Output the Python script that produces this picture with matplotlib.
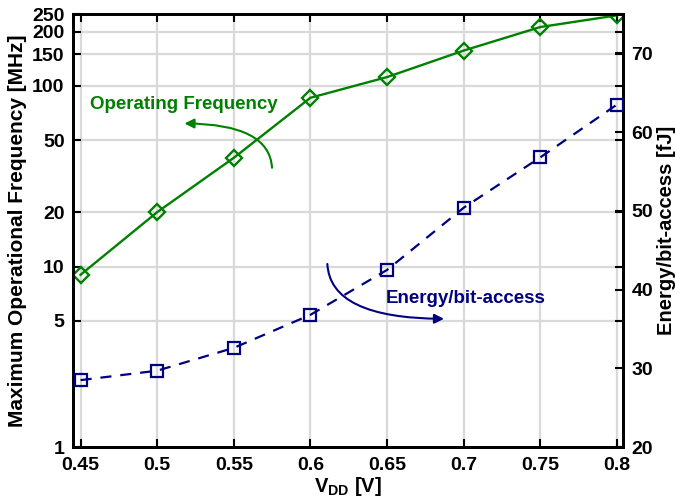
import matplotlib
matplotlib.use("Agg")
import matplotlib.pyplot as plt

plt.rcParams['font.family'] = ['Liberation Sans', 'DejaVu Sans']
plt.rcParams['font.weight'] = 'bold'
plt.rcParams['mathtext.fontset'] = 'custom'
plt.rcParams['mathtext.rm'] = 'Liberation Sans:bold'
plt.rcParams['mathtext.it'] = 'Liberation Sans:bold'
plt.rcParams['mathtext.bf'] = 'Liberation Sans:bold'

# data
vdd = [0.45, 0.5, 0.55, 0.6, 0.65, 0.7, 0.75, 0.8]
freq_mhz = [9.0, 20.0, 40.0, 86.0, 112.0, 157.0, 212.0, 246.0]
energy_fj = [28.5, 29.7, 32.6, 36.8, 42.5, 50.4, 56.8, 63.5]

x_ticks = [0.45, 0.5, 0.55, 0.6, 0.65, 0.7, 0.75, 0.8]
x_labels = ['0.45', '0.5', '0.55', '0.6', '0.65', '0.7', '0.75', '0.8']
freq_ticks = [1, 5, 10, 20, 50, 100, 150, 200, 250]
energy_ticks = [20, 30, 40, 50, 60, 70]

green = '#008000'
navy = '#000080'

fig = plt.figure(figsize=(6.75, 5.04), dpi=100)
ax = fig.add_axes([0.108, 0.113, 0.815, 0.859])
ax2 = ax.twinx()

# grid
for x in x_ticks:
    ax.axvline(x, color='#d9d9d9', lw=1.6, zorder=0)
for y in freq_ticks[1:-1]:
    ax.axhline(y, color='#d9d9d9', lw=1.6, zorder=0)

ax.plot(vdd, freq_mhz, color=green, lw=1.7, marker='D', markersize=8.5,
        markerfacecolor='none', markeredgewidth=1.7, zorder=3)
ax2.plot(vdd, energy_fj, color=navy, lw=1.6, ls=(0, (5, 4)), marker='s',
         markersize=8, markerfacecolor='none', markeredgewidth=1.6, zorder=3)

ax.set_yscale('log')
ax.set_xlim(0.445, 0.804)
ax.set_ylim(1, 250)
ax.set_xticks(x_ticks)
ax.set_xticklabels(x_labels)
ax.set_yticks(freq_ticks)
ax.set_yticklabels([str(t) for t in freq_ticks])
ax.minorticks_off()
ax2.set_ylim(20, 75)
ax2.set_yticks(energy_ticks)
ax2.minorticks_off()

for a in (ax, ax2):
    for s in a.spines.values():
        s.set_linewidth(2.0)
    a.tick_params(which='both', direction='in', length=6, width=1.5,
                  labelsize=14)
ax.tick_params(top=True, right=True)
ax.tick_params(axis='x', pad=7)
ax.tick_params(axis='y', pad=6)
ax2.tick_params(right=True, left=False, pad=6)

ax.set_xlabel(r'$\mathregular{V_{DD}}$ [V]', fontsize=14.5, fontweight='bold', labelpad=1)
ax.set_ylabel('Maximum Operational Frequency [MHz]', fontsize=15, fontweight='bold', labelpad=4)
ax2.set_ylabel('Energy/bit-access [fJ]', fontsize=14.5, fontweight='bold')
ax2.yaxis.set_label_coords(1.062, 0.5)

ax.text(0.456, 79, 'Operating Frequency', color=green, fontsize=13.5,
        fontweight='bold', va='center', ha='left')
ax.annotate('', xy=(0.516, 62), xytext=(0.575, 34),
            arrowprops=dict(arrowstyle='-|>', color=green, lw=1.5,
                            mutation_scale=14,
                            connectionstyle='angle3,angleA=90,angleB=0'))

ax.text(0.649, 6.64, 'Energy/bit-access', color=navy, fontsize=13.5,
        fontweight='bold', va='center', ha='left')
ax.annotate('', xy=(0.689, 5.13), xytext=(0.611, 10.7),
            arrowprops=dict(arrowstyle='-|>', color=navy, lw=1.5,
                            mutation_scale=14,
                            connectionstyle='angle3,angleA=90,angleB=0'))

fig.savefig('out.png', dpi=100)
